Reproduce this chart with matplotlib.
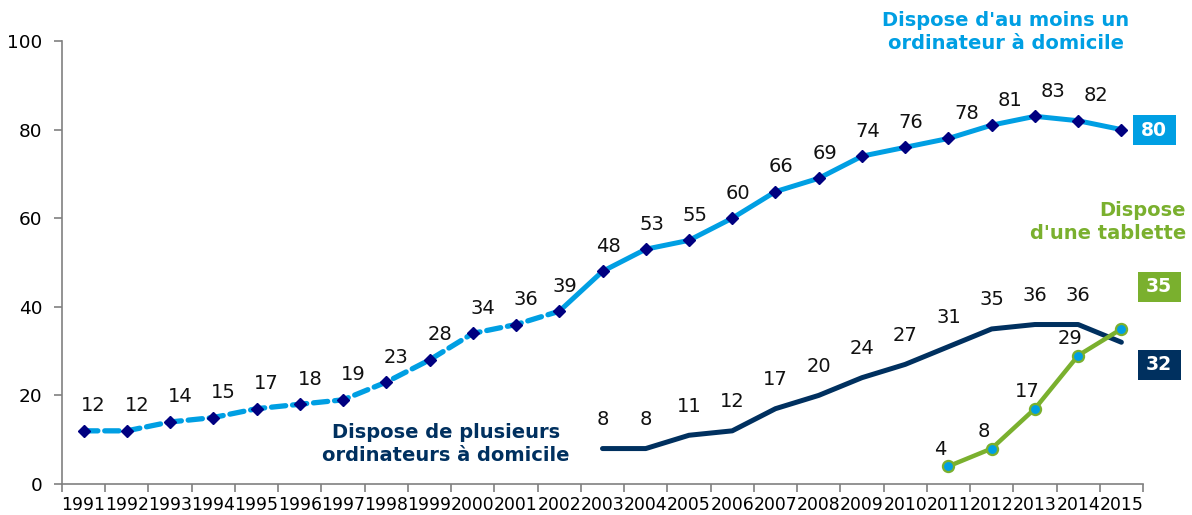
import matplotlib
matplotlib.use("Agg")
import matplotlib.pyplot as plt
from matplotlib.patches import Rectangle
import numpy as np

plt.rcParams['font.family'] = ['DejaVu Sans']

years = [str(y) for y in range(1991, 2016)]
computer = [12, 12, 14, 15, 17, 18, 19, 23, 28, 34, 36, 39,
            48, 53, 55, 60, 66, 69, 74, 76, 78, 81, 83, 82, 80]
multiple_years = [str(y) for y in range(2003, 2016)]
multiple = [8, 8, 11, 12, 17, 20, 24, 27, 31, 35, 36, 36, 32]
tablet_years = [str(y) for y in range(2011, 2016)]
tablet = [4, 8, 17, 29, 35]
dashed_until = "2002"

C_BLUE = "#009FE3"
C_NAVY = "#00305F"
C_MARK = "#000080"
C_GREEN = "#7AB02E"

W, H = 1192, 515
fig = plt.figure(figsize=(W / 100, H / 100), dpi=100)
ax = fig.add_axes([62 / W, 31 / H, (1143 - 62) / W, (484 - 41) / H])

pos = {y: i for i, y in enumerate(years)}
xc = np.array([pos[y] for y in years])
xm = np.array([pos[y] for y in multiple_years])
xt = np.array([pos[y] for y in tablet_years])
k = pos[dashed_until]

# Computer: dashed part then solid
ax.plot(xc[:k + 1], computer[:k + 1], color=C_BLUE, lw=3.8, ls=(0, (2.7, 1.3)),
        dash_capstyle='round', zorder=3)
ax.plot(xc[k:], computer[k:], color=C_BLUE, lw=3.6, solid_capstyle='round', zorder=3)
ax.plot(xc, computer, ls='none', marker='D', ms=6, color=C_MARK, zorder=4)

# Multiple computers
ax.plot(xm, multiple, color=C_NAVY, lw=3.6, solid_capstyle='round', zorder=3)

# Tablet
ax.plot(xt, tablet, color=C_GREEN, lw=3.2, marker='o', ms=8, mfc=C_BLUE,
        mec=C_GREEN, mew=1.6, solid_capstyle='round', zorder=5)

lab_fs = 14
for x, v in zip(xc[:-1], computer[:-1]):
    dx = 10 if x < k else 6
    if x >= pos["2011"]:
        dx = 18
    ax.annotate(str(v), (x, v), xytext=(dx, 25), textcoords='offset pixels',
                ha='center', va='center', fontsize=lab_fs, color='#111111')
for x, v in zip(xm[:-1], multiple[:-1]):
    ax.annotate(str(v), (x, v), xytext=(0, 29), textcoords='offset pixels',
                ha='center', va='center', fontsize=lab_fs, color='#111111')
for x, v in zip(xt[:-1], tablet[:-1]):
    ax.annotate(str(v), (x, v), xytext=(-8, 17), textcoords='offset pixels',
                ha='center', va='center', fontsize=lab_fs, color='#111111')

ax.set_xlim(-0.5, len(years) - 0.5)
ax.set_ylim(0, 100)
ax.set_yticks(np.arange(0, 101, 20))
ax.set_xticks(xc)
ax.set_xticklabels(years, fontsize=12.4)
ax.set_xticks(np.arange(-0.5, len(years), 1), minor=True)
ax.tick_params(axis='x', which='major', length=0, pad=9)
ax.tick_params(axis='x', which='minor', length=6, color='#808080', width=1.2)
ax.tick_params(axis='y', length=6, color='#808080', width=1.2, pad=8, labelsize=13.3)
for s in ['top', 'right']:
    ax.spines[s].set_visible(False)
for s in ['left', 'bottom']:
    ax.spines[s].set_color('#808080')
    ax.spines[s].set_linewidth(1.2)

# Series titles
tfs = 14
fig.text(1006 / W, 1 - 32 / H, "Dispose d'au moins un\nordinateur à domicile",
         ha='center', va='center', fontsize=tfs, fontweight='bold', color=C_BLUE,
         linespacing=1.3)
fig.text(446 / W, 1 - 444 / H, "Dispose de plusieurs\nordinateurs à domicile",
         ha='center', va='center', fontsize=tfs, fontweight='bold', color=C_NAVY,
         linespacing=1.3)
fig.text(1186 / W, 1 - 222 / H, "Dispose\nd'une tablette",
         ha='right', va='center', fontsize=tfs, fontweight='bold', color=C_GREEN,
         linespacing=1.3, multialignment='right')

# End value boxes
def endbox(cx, cy, text, color):
    bw, bh = 43, 30
    fig.patches.append(Rectangle(((cx - bw / 2) / W, 1 - (cy + bh / 2) / H), bw / W, bh / H,
                                 transform=fig.transFigure, facecolor=color,
                                 edgecolor='none'))
    fig.text(cx / W, 1 - cy / H, text, ha='center', va='center', fontsize=13.5,
             fontweight='bold', color='white')

endbox(1154, 130, str(computer[-1]), C_BLUE)
endbox(1159, 287, str(tablet[-1]), C_GREEN)
endbox(1159, 365, str(multiple[-1]), C_NAVY)

fig.savefig("out.png", dpi=100)
